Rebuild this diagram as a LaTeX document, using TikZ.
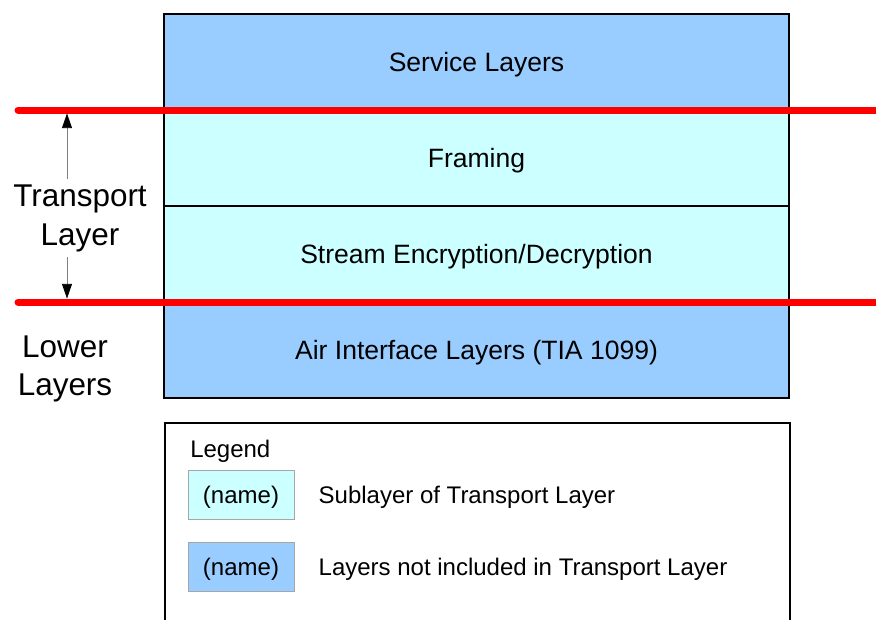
\documentclass[tikz,border=0pt]{standalone}
\usepackage{fontspec}
\setmainfont{Liberation Sans}
\usepackage{tikz}
\usetikzlibrary{shapes}
\usetikzlibrary{arrows.meta}
\usetikzlibrary{positioning}
\definecolor{bleu}{HTML}{99CCFF}
\definecolor{cyanclair}{HTML}{CCFFFF}
\tikzstyle{couche}=[
        rectangle,
        draw=black,
        line width=1.5pt,
        minimum width=468.75pt,
        minimum height=72pt,
        inner sep=0pt,
        text height=14.25pt,
        text depth=0pt,
        font=\fontsize{19.9pt}{24pt}\selectfont
]
\tikzstyle{service}=[couche,fill=bleu]
\tikzstyle{souscouche}=[couche,fill=cyanclair]
\tikzstyle{limite}=[line width=5.25pt,red,line cap=round]
\tikzstyle{cote}=[-{Triangle[length=11pt,width=7.5pt,black]},gray,line width=0.6pt]
\tikzstyle{etiquette}=[align=center,inner sep=0pt,font=\fontsize{23.6pt}{29pt}\selectfont]
\tikzstyle{echantillon}=[rectangle,draw=gray!70,line width=0.6pt,minimum width=79.5pt,minimum height=36.75pt,text height=12.9pt,text depth=0pt,font=\fontsize{18pt}{22pt}\selectfont]
\tikzstyle{legende}=[anchor=west,inner sep=0pt,text height=12.9pt,text depth=0pt,font=\fontsize{18pt}{22pt}\selectfont]
\begin{document}
\begin{tikzpicture}[x=0.75pt,y=-0.75pt]
\clip (0,0) rectangle (876,619);
\node[service] (svc) at (476.5,62) {Service Layers};
\node[souscouche] (framing) at (476.5,158) {Framing};
\node[souscouche] (crypt) at (476.5,254) {Stream Encryption/Decryption};
\node[service] (air) at (476.5,350) {Air Interface Layers (TIA 1099)};
%Legende
\node[draw,line width=1.5pt,minimum width=468.75pt,minimum height=200pt,anchor=north west] (legendbox) at (164,422) {};
\node[legende] (titre) at (190,449) {Legend};
\node[echantillon,fill=cyanclair] (ech1) at (241,495) {(name)};
\node[echantillon,fill=bleu] (ech2) at (241,567) {(name)};
\node[legende,right=18pt of ech1] (txt1) {Sublayer of Transport Layer};
\node[legende,right=18pt of ech2] (txt2) {Layers not included in Transport Layer};
%Etiquettes
\node[etiquette] (tl) at (80,218.5) {Transport\\Layer};
\node[etiquette] (ll) at (65,369) {Lower\\Layers};
%Limites
\coordinate (h1) at (18,110);
\coordinate (h1e) at (890,110);
\coordinate (h2) at (18,302);
\coordinate (h2e) at (890,302);
\draw[limite] (h1) -- (h1e);
\draw[limite] (h2) -- (h2e);
\coordinate (a1) at (67,179);
\coordinate (a2) at (67,257);
\draw[cote,shorten >=2.6pt] (a1) -- (a1 |- h1);
\draw[cote,shorten >=2.6pt] (a2) -- (a2 |- h2);
\end{tikzpicture}
\end{document}
